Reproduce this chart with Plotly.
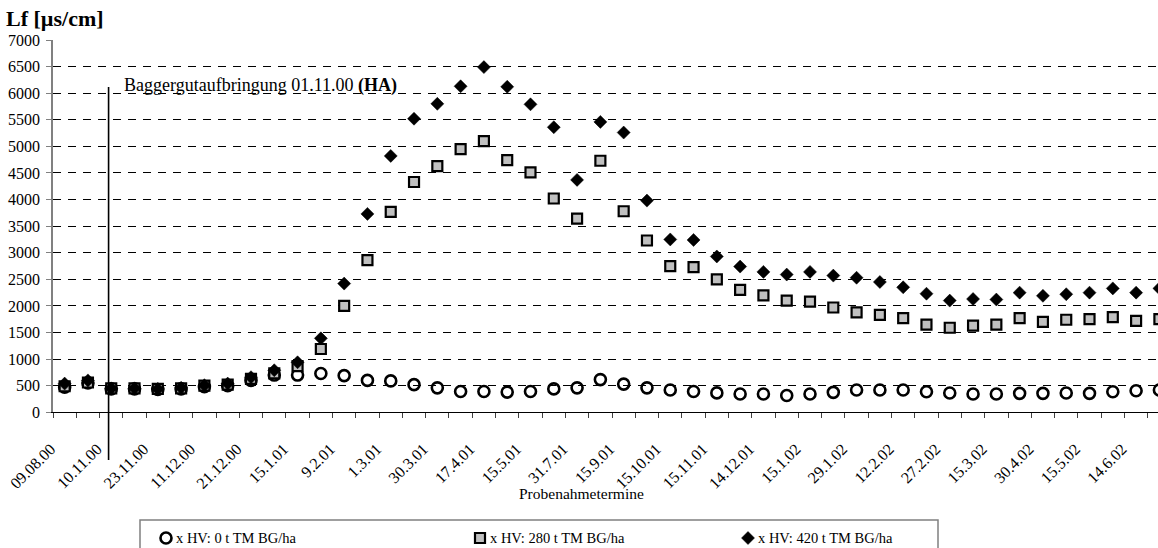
import plotly.graph_objects as go

# Sampling dates (every second sampling date is labelled on the axis)
tick_labels = [
    "09.08.00", "10.11.00", "23.11.00", "11.12.00", "21.12.00", "15.1.01",
    "9.2.01", "1.3.01", "30.3.01", "17.4.01", "15.5.01", "31.7.01",
    "15.9.01", "15.10.01", "15.11.01", "14.12.01", "15.1.02", "29.1.02",
    "12.2.02", "27.2.02", "15.3.02", "30.4.02", "15.5.02", "14.6.02",
]

# Electrical conductivity Lf [µs/cm] per sampling date (48 dates)
lf_0t = [
    470, 550, 440, 440, 430, 440, 480, 500, 600, 700,
    700, 730, 690, 600, 590, 520, 460, 390, 390, 380,
    390, 440, 460, 615, 530, 460, 420, 390, 365, 345,
    343, 315, 343, 375, 419, 419, 419, 387, 362, 343,
    343, 356, 356, 362, 356, 387, 406, 419,
]
lf_280t = [
    490, 560, 450, 450, 440, 450, 500, 520, 630, 730,
    870, 1190, 2000, 2860, 3770, 4330, 4630, 4950, 5100, 4740,
    4510, 4020, 3640, 4730, 3780, 3230, 2750, 2730, 2500, 2300,
    2200, 2100, 2080, 1970, 1880, 1830, 1770, 1650, 1590, 1630,
    1650, 1770, 1700, 1740, 1750, 1790, 1720, 1750,
]
lf_420t = [
    540, 600, 450, 450, 440, 460, 510, 540, 660, 790,
    940, 1390, 2420, 3730, 4820, 5520, 5800, 6130, 6490, 6120,
    5790, 5360, 4370, 5460, 5260, 3980, 3250, 3240, 2930, 2740,
    2640, 2590, 2640, 2570, 2530, 2450, 2350, 2230, 2100, 2130,
    2120, 2250, 2190, 2220, 2250, 2330, 2250, 2330,
]

series_names = [
    "x HV: 0 t TM BG/ha",
    "x HV: 280 t TM BG/ha",
    "x HV: 420 t TM BG/ha",
]

event_position = 1.886          # 01.11.00, between 2nd and 3rd sampling date
event_label = "Baggergutaufbringung 01.11.00 <b>(HA)</b>"

FONT = "Liberation Serif, Times New Roman, serif"
W, H = 1158, 548


def px(x):
    """Horizontal pixel -> paper fraction."""
    return x / W


def py(y):
    """Vertical pixel (from top) -> paper fraction."""
    return 1 - y / H


n = len(lf_0t)
idx = list(range(n))

styles = [
    dict(symbol="circle-open", size=11, color="black", line=dict(width=2.6, color="black")),
    dict(symbol="square", size=10, color="#c0c0c0", line=dict(width=2.2, color="black")),
    dict(symbol="diamond", size=10, color="black", line=dict(width=0.5, color="black")),
]

fig = go.Figure()
for vals, name, st in zip([lf_0t, lf_280t, lf_420t], series_names, styles):
    fig.add_trace(go.Scatter(x=idx, y=vals, mode="markers", name=name,
                             marker=st, showlegend=False))

# Legend drawn on a separate full-figure axis pair (pixel units)
legend_marker_x = [166, 480, 748]
legend_y = 538
for st, mx, name in zip(styles, legend_marker_x, series_names):
    fig.add_trace(go.Scatter(x=[mx], y=[legend_y], mode="markers", marker=st,
                             xaxis="x2", yaxis="y2", showlegend=False,
                             hoverinfo="skip", cliponaxis=False))
    fig.add_annotation(xref="paper", yref="paper", x=px(mx + 8), y=py(legend_y),
                       xanchor="left", yanchor="middle", showarrow=False,
                       text=name, font=dict(family=FONT, size=14.5, color="black"))

fig.add_shape(type="rect", xref="paper", yref="paper",
              x0=px(140), x1=px(938), y0=py(520), y1=py(570),
              line=dict(color="#808080", width=1.5), fillcolor="rgba(0,0,0,0)")

# application date marker line
fig.add_shape(type="line", xref="x", yref="paper",
              x0=event_position, x1=event_position, y0=py(87), y1=py(460),
              line=dict(color="black", width=1.6))

fig.add_annotation(xref="paper", yref="paper", x=px(122), y=py(86),
                   xanchor="left", yanchor="middle", showarrow=False,
                   text=event_label, font=dict(family=FONT, size=18, color="black"))

fig.add_annotation(xref="paper", yref="paper", x=px(4), y=py(18),
                   xanchor="left", yanchor="middle", showarrow=False,
                   text="<b>Lf [µs/cm]</b>",
                   font=dict(family=FONT, size=22, color="black"))

fig.add_annotation(xref="paper", yref="paper", x=px(581), y=py(493),
                   xanchor="center", yanchor="middle", showarrow=False,
                   text="Probenahmetermine",
                   font=dict(family=FONT, size=15.5, color="black"))

fig.update_layout(
    width=W, height=H,
    margin=dict(l=0, r=0, t=0, b=0, autoexpand=False),
    paper_bgcolor="white", plot_bgcolor="rgba(0,0,0,0)",
    font=dict(family=FONT, size=15, color="black"),
    showlegend=False,
    xaxis=dict(
        domain=[px(53), 1],
        range=[-0.5, 46.94],
        tickvals=idx[::2], ticktext=tick_labels, tickangle=-45,
        ticks="", showgrid=False, zeroline=False,
        showline=True, linecolor="black", linewidth=1.2,
        tickfont=dict(family=FONT, size=16, color="black"),
        ticklabelstandoff=20, ticklabelshift=-14,
        minor=dict(tickvals=[i - 0.5 for i in range(n + 1)], ticks="outside",
                   ticklen=5, tickcolor="#404040", tickwidth=1, showgrid=False),
    ),
    yaxis=dict(
        domain=[py(412.3), py(40)],
        range=[0, 7000], dtick=500, tick0=0,
        showgrid=True, gridcolor="black", gridwidth=1, griddash="8px,7px",
        zeroline=False, showline=True, linecolor="#808080", linewidth=1.5,
        ticks="outside", ticklen=5, tickcolor="#808080",
        tickfont=dict(family=FONT, size=16, color="black"),
        ticklabelstandoff=3,
    ),
    xaxis2=dict(domain=[0, 1], range=[0, W], visible=False, fixedrange=True,
                anchor="y2"),
    yaxis2=dict(domain=[0, 1], range=[H, 0], visible=False, fixedrange=True,
                anchor="x2"),
)

fig.write_html("out.html")
